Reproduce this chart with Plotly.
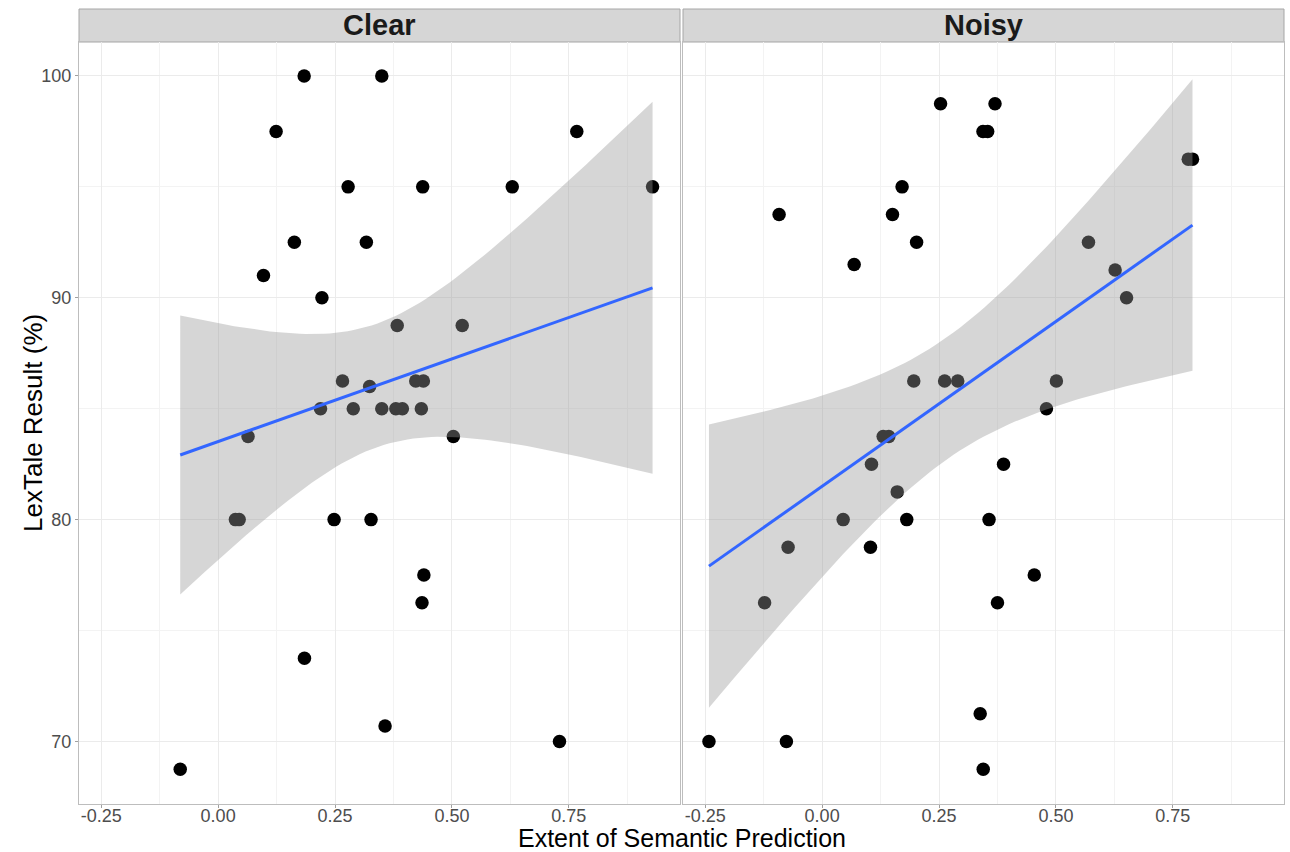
import numpy as np
import plotly.graph_objects as go

# ---- data ----
clear_x = [0.184, 0.350, 0.124, 0.767, 0.278, 0.4375, 0.629, 0.929, 0.163, 0.317,
           0.097, 0.222, 0.383, 0.522, 0.266, 0.4226, 0.4389, 0.324, 0.219, 0.289,
           0.350, 0.380, 0.394, 0.4346, 0.064, 0.503, 0.037, 0.045, 0.248, 0.327,
           0.440, 0.436, 0.1846, 0.357, 0.730, -0.081]
clear_y = [100, 100, 97.5, 97.5, 95, 95, 95, 95, 92.5, 92.5,
           91, 90, 88.75, 88.75, 86.25, 86.25, 86.25, 86, 85, 85,
           85, 85, 85, 85, 83.75, 83.75, 80, 80, 80, 80,
           77.5, 76.25, 73.75, 70.7, 70, 68.75]

noisy_x = [0.2533, 0.3697, 0.344, 0.354, 0.783, 0.792, 0.171, -0.092, 0.1505, 0.202,
           0.5696, 0.0685, 0.6266, 0.651, 0.196, 0.262, 0.290, 0.501, 0.4797, 0.1306,
           0.1426, 0.1056, 0.388, 0.1606, 0.045, 0.181, 0.357, -0.0728, 0.1034, 0.4537,
           -0.123, 0.375, 0.338, -0.242, -0.0764, 0.3445]
noisy_y = [98.75, 98.75, 97.5, 97.5, 96.25, 96.25, 95, 93.75, 93.75, 92.5,
           92.5, 91.5, 91.25, 90, 86.25, 86.25, 86.25, 86.25, 85, 83.75,
           83.75, 82.5, 82.5, 81.25, 80, 80, 80, 78.75, 78.75, 77.5,
           76.25, 76.25, 71.25, 70, 70, 68.75]

panels = ["Clear", "Noisy"]
x_ticks = [-0.25, 0.0, 0.25, 0.50, 0.75]
x_tick_labels = ["-0.25", "0.00", "0.25", "0.50", "0.75"]
y_ticks = [70, 80, 90, 100]

T975 = 2.032245  # t quantile, df = n - 2 = 34


def lm_band(x, y, n=80):
    x = np.asarray(x, float)
    y = np.asarray(y, float)
    b1, b0 = np.polyfit(x, y, 1)
    resid = y - (b0 + b1 * x)
    dfree = len(x) - 2
    s = np.sqrt(np.sum(resid ** 2) / dfree)
    xm = x.mean()
    sxx = np.sum((x - xm) ** 2)
    xs = np.linspace(x.min(), x.max(), n)
    fit = b0 + b1 * xs
    se = s * np.sqrt(1 / len(x) + (xs - xm) ** 2 / sxx)
    return xs, fit, fit - T975 * se, fit + T975 * se


fig = go.Figure()
data = [(clear_x, clear_y), (noisy_x, noisy_y)]
for i, (px, py) in enumerate(data):
    xa = "x" if i == 0 else "x2"
    ya = "y" if i == 0 else "y2"
    fig.add_trace(go.Scatter(x=px, y=py, mode="markers", xaxis=xa, yaxis=ya,
                             marker=dict(size=13.5, color="black", line=dict(width=0)),
                             showlegend=False, hoverinfo="x+y"))
    xs, fit, lo, hi = lm_band(px, py)
    fig.add_trace(go.Scatter(x=np.concatenate([xs, xs[::-1]]),
                             y=np.concatenate([hi, lo[::-1]]),
                             fill="toself", fillcolor="rgba(153,153,153,0.4)",
                             line=dict(width=0), mode="lines", xaxis=xa, yaxis=ya,
                             showlegend=False, hoverinfo="skip"))
    fig.add_trace(go.Scatter(x=xs, y=fit, mode="lines", xaxis=xa, yaxis=ya,
                             line=dict(color="#3366FF", width=3),
                             showlegend=False, hoverinfo="skip"))

xrange = [-0.2975, 0.9877]
yrange = [67.18, 101.53]
grid = "#EBEBEB"
border = "#BDBDBD"
FONT = "Liberation Sans, Arial, sans-serif"
tickfont = dict(family=FONT, size=18, color="#4D4D4D")
ytop = 762 / 795
L = 79
PW = 1205

common_x = dict(range=xrange, tickvals=x_ticks, ticktext=x_tick_labels,
                showgrid=True, gridcolor=grid, gridwidth=1,
                minor=dict(tickvals=[-0.125, 0.125, 0.375, 0.625, 0.875],
                           showgrid=True, gridcolor="#F3F3F3", gridwidth=1, ticks=""),
                zeroline=False, showline=True, linecolor=border, linewidth=1, mirror=True,
                ticks="outside", ticklen=3, tickcolor="#A0A0A0", tickfont=tickfont,
                ticklabelstandoff=-8)
common_y = dict(range=yrange, tickvals=y_ticks, showgrid=True, gridcolor=grid, gridwidth=1,
                minor=dict(tickvals=[75, 85, 95], showgrid=True, gridcolor="#F3F3F3",
                           gridwidth=1, ticks=""),
                zeroline=False, showline=True, linecolor=border, linewidth=1, mirror=True,
                domain=[0, ytop])

fig.update_layout(
    width=1290, height=852,
    margin=dict(l=L, r=6, t=9, b=48, autoexpand=False),
    paper_bgcolor="white", plot_bgcolor="white",
    font=dict(family=FONT),
    xaxis=dict(domain=[0, 601 / PW], anchor="y", **common_x),
    xaxis2=dict(domain=[604 / PW, 1], anchor="y2", matches="x", **common_x),
    yaxis=dict(anchor="x", ticks="outside", ticklen=3, tickcolor="#A0A0A0",
               tickfont=tickfont, **common_y),
    yaxis2=dict(anchor="x2", showticklabels=False, ticks="", matches="y", **common_y),
    showlegend=False,
)

# axis titles
fig.add_annotation(text="Extent of Semantic Prediction", xref="paper", yref="paper",
                   x=0.5, y=0, yshift=-34, yanchor="middle", showarrow=False,
                   font=dict(family=FONT, size=25, color="black"))
fig.add_annotation(text="LexTale Result (%)", xref="paper", yref="paper",
                   x=(33 - L) / PW, y=ytop / 2, textangle=-90, showarrow=False,
                   xanchor="center", yanchor="middle",
                   font=dict(family=FONT, size=26, color="black"))

# facet strips
strip_dom = [(0, 601 / PW), (604 / PW, 1)]
for (x0, x1), name in zip(strip_dom, panels):
    fig.add_shape(type="rect", xref="paper", yref="paper", x0=x0, x1=x1,
                  y0=ytop, y1=1, fillcolor="#D6D6D6",
                  line=dict(color="#A6A6A6", width=1), layer="below")
    fig.add_annotation(text="<b>" + name + "</b>", xref="paper", yref="paper",
                       x=(x0 + x1) / 2, y=(ytop + 1) / 2, showarrow=False,
                       xanchor="center", yanchor="middle",
                       font=dict(family=FONT, size=29, color="#1A1A1A"))

fig.write_html("out.html",
               config={"displayModeBar": False},
               post_script="document.body.style.margin='0px';"
                           "document.body.style.overflow='hidden';")
